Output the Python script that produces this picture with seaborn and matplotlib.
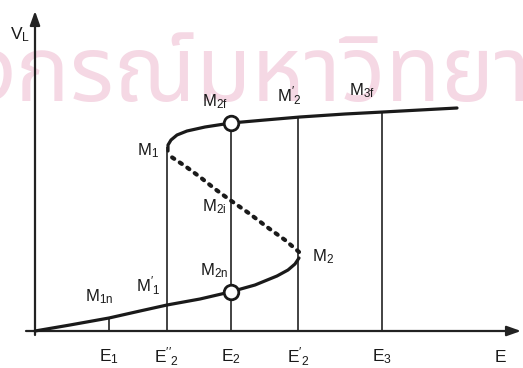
import numpy as np
import pandas as pd
import matplotlib
matplotlib.use("Agg")
import matplotlib.pyplot as plt
import seaborn as sns

sns.set_theme(style="white")
plt.rcParams["font.family"] = ["Liberation Sans", "DejaVu Sans"]
plt.rcParams["mathtext.fontset"] = "custom"
plt.rcParams["mathtext.rm"] = "Liberation Sans"
plt.rcParams["mathtext.it"] = "Liberation Sans"

# S-shaped load characteristic V_L(E): three branches
lower_E = [0, 35, 74, 105, 132, 165, 195, 220, 242, 253, 260, 264]
lower_V = [0, 6, 13, 20, 26, 32, 39, 46, 55, 61, 67, 73]
middle_E = [264, 250, 232, 215, 195, 180, 165, 150, 135]
middle_V = [79, 91, 104, 117, 131, 142, 154, 165, 175]
upper_E = [133, 133, 136, 142, 152, 170, 196, 230, 265, 310, 348, 385, 422]
upper_V = [180, 186, 191, 196, 200, 204, 208, 211, 214, 217, 219, 221, 223]

# Excitation levels marked on the E axis and the height of each guide line
level_labels = [r"$\mathregular{E_1}$", r"$\mathregular{E''_2}$", r"$\mathregular{E_2}$",
                r"$\mathregular{E'_2}$", r"$\mathregular{E_3}$"]
level_E = [74, 132, 196, 263, 347]
level_top = [13, 184, 208, 214, 219]

# Operating points (open circles) at E_2
marker_E = [196, 196]
marker_V = [39, 208]

# Point labels
point_labels = [r"$\mathregular{M_{1n}}$", r"$\mathregular{M'_1}$", r"$\mathregular{M_{2n}}$",
                r"$\mathregular{M_2}$", r"$\mathregular{M_{2i}}$", r"$\mathregular{M_1}$",
                r"$\mathregular{M_{2f}}$", r"$\mathregular{M'_2}$", r"$\mathregular{M_{3f}}$"]
point_E = [64, 113, 179, 288, 179, 113, 180, 254, 327]
point_V = [34, 45, 60, 74, 124, 180, 229, 235, 240]

W, H = 523, 368
fig = plt.figure(figsize=(W / 100, H / 100), dpi=100)
ax = fig.add_axes([0, 0, 1, 1])

# Watermark
ax.text(-67, 253, "งกรณ์มหาวิทยาลัย", fontsize=65, color="#f5d8e4",
        family=["Noto Sans Thai", "Noto Sans", "DejaVu Sans"],
        ha="left", va="center", zorder=0)

# Axes with arrow heads
ax.annotate("", xy=(486, 0), xytext=(-9, 0),
            arrowprops=dict(arrowstyle="-|>,head_length=0.7,head_width=0.25",
                            color="#222222", lw=1.6, shrinkA=0, shrinkB=0))
ax.annotate("", xy=(0, 320), xytext=(0, -4),
            arrowprops=dict(arrowstyle="-|>,head_length=0.7,head_width=0.25",
                            color="#222222", lw=1.6, shrinkA=0, shrinkB=0))

# Vertical guide lines
ax.vlines(level_E, 0, level_top, color="#222222", lw=1.2, zorder=2)

lower = pd.DataFrame({"E": lower_E, "V": lower_V})
middle = pd.DataFrame({"E": middle_E, "V": middle_V})
upper = pd.DataFrame({"E": upper_E, "V": upper_V})

sns.lineplot(data=lower, x="E", y="V", sort=False, estimator=None, ax=ax,
             color="#1a1a1a", lw=2.3, zorder=3)
sns.lineplot(data=upper, x="E", y="V", sort=False, estimator=None, ax=ax,
             color="#1a1a1a", lw=2.3, zorder=3)
sns.lineplot(data=middle, x="E", y="V", sort=False, estimator=None, ax=ax,
             color="#1a1a1a", lw=3.0, zorder=3, dashes=False,
             linestyle=(0, (0.6, 1.6)), dash_capstyle="round")

sns.scatterplot(x=marker_E, y=marker_V, ax=ax, s=110, facecolor="white",
                edgecolor="#1a1a1a", linewidth=2.0, zorder=4)

for lab, e in zip(level_labels, level_E):
    ax.text(e, -26, lab, fontsize=12.5, ha="center", va="center", color="#1a1a1a")
ax.text(465, -26, "E", fontsize=12.5, ha="center", va="center", color="#1a1a1a")
ax.text(-15, 296, r"$\mathregular{V_L}$", fontsize=12.5, ha="center", va="center",
        color="#1a1a1a")

for lab, e, v in zip(point_labels, point_E, point_V):
    ax.text(e, v, lab, fontsize=12, ha="center", va="center", color="#1a1a1a")

ax.set_xlim(-35, W - 35)
ax.set_ylim(-(H - 331), 331)
ax.axis("off")

fig.savefig("out.png", dpi=100)
